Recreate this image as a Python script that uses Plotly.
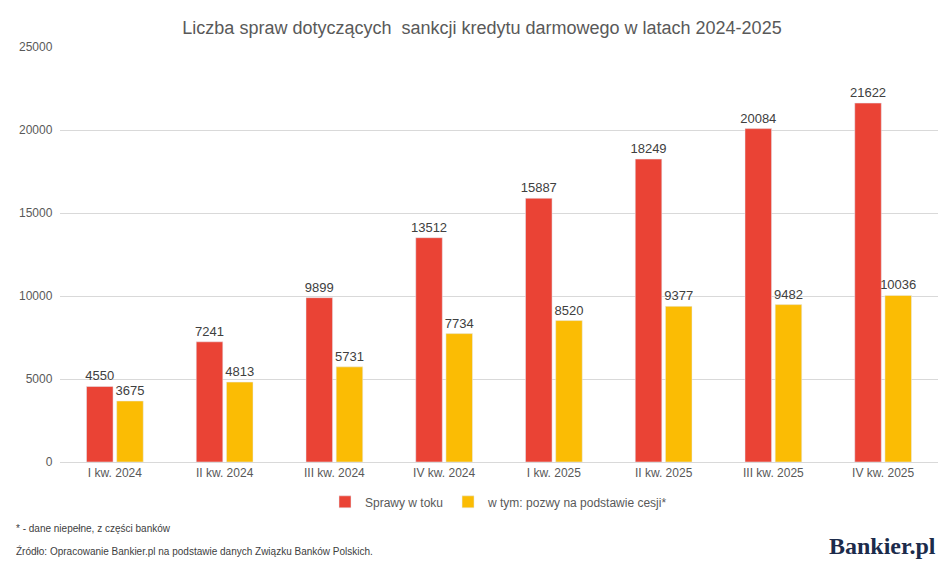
import plotly.graph_objects as go

kwartaly = ["I kw. 2024", "II kw. 2024", "III kw. 2024", "IV kw. 2024",
            "I kw. 2025", "II kw. 2025", "III kw. 2025", "IV kw. 2025"]
sprawy = [4550, 7241, 9899, 13512, 15887, 18249, 20084, 21622]
cesje = [3675, 4813, 5731, 7734, 8520, 9377, 9482, 10036]

fnt = "Liberation Sans, Arial, sans-serif"

fig = go.Figure()
fig.add_trace(go.Bar(x=kwartaly, y=sprawy, name="Sprawy w toku", marker_color="#EA4335",
                     text=sprawy, textposition="outside", constraintext="none",
                     textfont=dict(size=13, color="#404040")))
fig.add_trace(go.Bar(x=kwartaly, y=cesje, name="w tym: pozwy na podstawie cesji*", marker_color="#FBBC04",
                     text=cesje, textposition="outside", constraintext="none",
                     textfont=dict(size=13, color="#404040")))

fig.update_layout(
    width=948, height=574, plot_bgcolor="white", paper_bgcolor="white",
    font=dict(family=fnt, size=12, color="#595959"),
    title=dict(text="Liczba spraw dotyczących  sankcji kredytu darmowego w latach 2024-2025",
               x=0.5, xanchor="center", yref="container", y=0.965, yanchor="middle",
               font=dict(size=18, color="#595959")),
    margin=dict(l=52, r=18, t=39, b=120, autoexpand=False),
    barmode="group", bargap=0.45, bargroupgap=0.12,
    legend=dict(orientation="h", x=0.5, xanchor="center", y=-0.096, yanchor="middle",
                font=dict(size=12, color="#595959"), itemwidth=30, tracegroupgap=10),
    xaxis=dict(showline=True, linecolor="#d9d9d9", tickfont=dict(size=12, color="#595959")),
    yaxis=dict(range=[0, 25000], dtick=5000, gridcolor="#d9d9d9", zeroline=False,
               tickformat="d", tickfont=dict(size=12, color="#595959"), ticksuffix="  "),
)
fig.update_traces(cliponaxis=False)

fig.add_annotation(text="* - dane niepełne, z części banków", xref="paper", yref="paper",
                   x=-0.052, y=-0.16, xanchor="left", yanchor="middle", showarrow=False,
                   font=dict(size=10, color="#404040"))
fig.add_annotation(text="Źródło: Opracowanie Bankier.pl na podstawie danych Związku Banków Polskich.",
                   xref="paper", yref="paper", x=-0.052, y=-0.215, xanchor="left", yanchor="middle",
                   showarrow=False, font=dict(size=10, color="#404040"))
fig.add_annotation(text="<b>Bankier.pl</b>", xref="paper", yref="paper", x=1.0, y=-0.203,
                   xanchor="right", yanchor="middle", showarrow=False,
                   font=dict(size=24, color="#1c2b4b", family="Liberation Serif, serif"))

fig.write_html("out.html")
